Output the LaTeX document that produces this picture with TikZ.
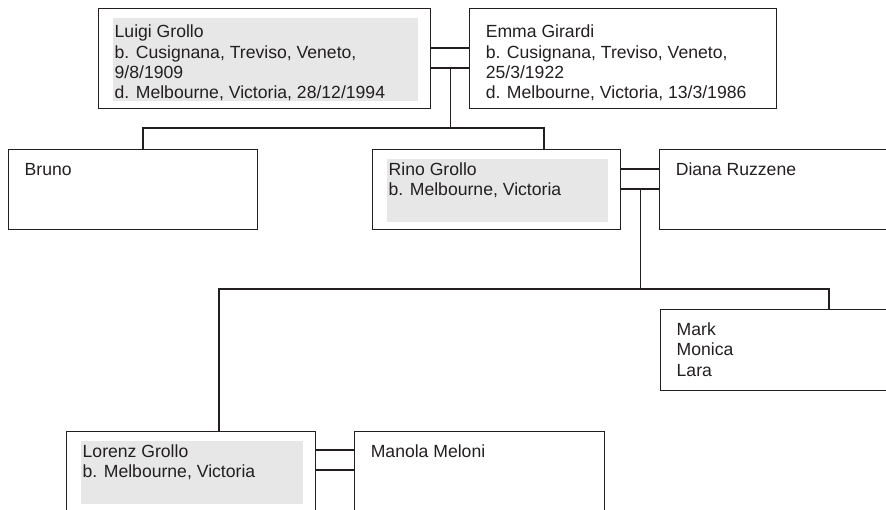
\documentclass[tikz,border=0pt]{standalone}
\usepackage{fontspec}
\setmainfont{Liberation Sans}
\usepackage{tikz}
\usetikzlibrary{positioning}
\definecolor{ink}{HTML}{231F20}
\definecolor{boxgray}{HTML}{E6E7E6}
\tikzset{person/.style={draw=ink,line width=1.1pt,anchor=north west,inner sep=0pt,
                        minimum width=249pt,minimum height=80pt},
         grollo/.style={person,path picture={\fill[boxgray]
           ([xshift=14pt,yshift=-9pt]path picture bounding box.north west) rectangle
           ([xshift=-13pt,yshift=8pt]path picture bounding box.south east);}},
         txt/.style={anchor=north west,inner sep=0pt,align=left,text=ink,
                     font=\fontsize{17.6}{20.3}\selectfont},
         line/.style={draw=ink,line width=1.1pt}}

\begin{document}
\begin{tikzpicture}[x=1pt,y=-1pt]
  \useasboundingbox (0,0) rectangle (886,510);
  \clip (0,0) rectangle (886,510);
  % first generation
  \node[grollo,minimum width=332pt,minimum height=100pt] (luigi) at (98,8) {};
  \node[person,minimum width=307pt,minimum height=100pt,right=38pt of luigi] (emma) {};
  \node[txt] (luigi-t) at ([shift={(16.5,16.8)}]luigi.north west)
    {Luigi Grollo\\b. Cusignana, Treviso, Veneto,\\9/8/1909\\d. Melbourne, Victoria, 28/12/1994};
  \node[txt] (emma-t) at ([shift={(16.5,16.8)}]emma.north west)
    {Emma Girardi\\b. Cusignana, Treviso, Veneto,\\25/3/1922\\d. Melbourne, Victoria, 13/3/1986};
  % second generation
  \node[person] (bruno) at (8,149) {};
  \node[grollo,minimum width=248pt] (rino) at (372,149) {};
  \node[person,right=38pt of rino] (diana) {};
  \node[txt] (bruno-t) at ([shift={(16.5,13.7)}]bruno.north west) {Bruno};
  \node[txt] (rino-t) at ([shift={(16.5,13.7)}]rino.north west) {Rino Grollo\\b. Melbourne, Victoria};
  \node[txt] (diana-t) at ([shift={(16.5,13.7)}]diana.north west) {Diana Ruzzene};
  % third generation
  \node[person,minimum height=81pt] (mark) at (660,309) {};
  \node[grollo] (lorenz) at (66,431) {};
  \node[person,minimum width=250pt,right=38pt of lorenz] (manola) {};
  \node[txt] (mark-t) at ([shift={(16.5,13.7)}]mark.north west) {Mark\\Monica\\Lara};
  \node[txt] (lorenz-t) at ([shift={(16.5,13.2)}]lorenz.north west) {Lorenz Grollo\\b. Melbourne, Victoria};
  \node[txt] (manola-t) at ([shift={(16.5,13.7)}]manola.north west) {Manola Meloni};
  % marriages
  \draw[line] ([yshift=-40pt]luigi.north east) -- ([yshift=-40pt]emma.north west);
  \draw[line] ([yshift=-60pt]luigi.north east) -- ([yshift=-60pt]emma.north west) coordinate[pos=0.5] (m1);
  \draw[line] ([yshift=-20pt]rino.north east) -- ([yshift=-20pt]diana.north west);
  \draw[line] ([yshift=-40pt]rino.north east) -- ([yshift=-40pt]diana.north west) coordinate[pos=0.5] (m2);
  \draw[line] ([yshift=-19pt]lorenz.north east) -- ([yshift=-19pt]manola.north west);
  \draw[line] ([yshift=-39pt]lorenz.north east) -- ([yshift=-39pt]manola.north west);
  % children
  \draw[line] (m1) -- ++(0,60) coordinate (s1);
  \draw[line] ([xshift=135pt]bruno.north west) |- (s1) -| ([xshift=172pt]rino.north west);
  \draw[line] (m2) -- ++(0,100) coordinate (s2);
  \draw[line] ([xshift=153pt]lorenz.north west) |- (s2) -| ([xshift=169pt]mark.north west);
\end{tikzpicture}
\end{document}
